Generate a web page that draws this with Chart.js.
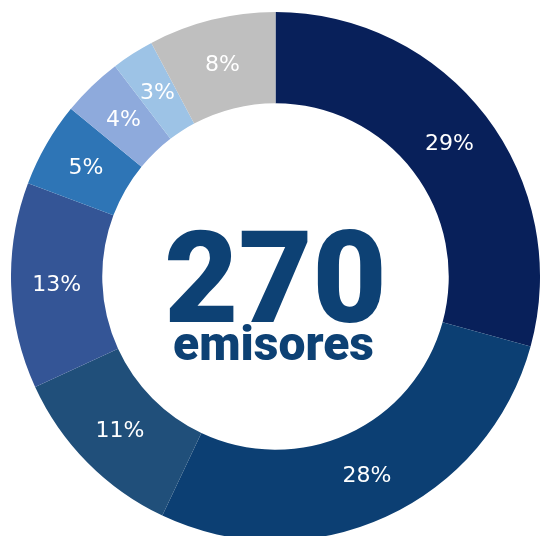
<!DOCTYPE html>
<html>
<head>
<meta charset="utf-8">
<script src="https://cdn.jsdelivr.net/npm/chart.js@4"></script>
<style>
html,body{margin:0;padding:0;background:#fff;overflow:hidden;width:541px;height:536px;}
#wrap{position:absolute;left:11px;top:12px;width:529px;height:529px;}
</style>
</head>
<body>
<div id="wrap"><canvas id="c"></canvas></div>
<script>
const categories = ["A", "B", "C", "D", "E", "F", "G", "H"];
const values = [79, 75, 30, 34, 14, 10, 7, 21];
const sliceLabels = ["29%", "28%", "11%", "13%", "5%", "4%", "3%", "8%"];
const colors = ["#08205a", "#0c3f73", "#204f7a", "#345596", "#2e75b6", "#8eaadc", "#9dc3e6", "#bfbfbf"];
const centerNumber = "270";
const centerWord = "emisores";

const labelPlugin = {
  id: 'sliceLabels',
  afterDatasetsDraw(chart) {
    const ctx = chart.ctx;
    const meta = chart.getDatasetMeta(0);
    ctx.save();
    ctx.fillStyle = '#ffffff';
    ctx.font = '22px "DejaVu Sans"';
    ctx.textAlign = 'center';
    ctx.textBaseline = 'middle';
    meta.data.forEach((arc, i) => {
      const p = arc.tooltipPosition();
      ctx.fillText(sliceLabels[i], p.x, p.y + 1);
    });
    const a = meta.data[0];
    const cx = a.x, cy = a.y;
    ctx.fillStyle = '#0d4174';
    ctx.textBaseline = 'alphabetic';
    ctx.font = '900 128px Roboto';
    ctx.fillText(centerNumber, cx, cy + 45);
    ctx.font = '900 48px Roboto';
    ctx.fillText(centerWord, cx - 2, cy + 83);
    ctx.restore();
  }
};

new Chart(document.getElementById('c'), {
  type: 'doughnut',
  data: {
    labels: categories,
    datasets: [{
      data: values,
      backgroundColor: colors,
      borderWidth: 0
    }]
  },
  options: {
    responsive: true,
    maintainAspectRatio: false,
    animation: false,
    cutout: '65.5%',
    layout: { padding: 0 },
    plugins: { legend: { display: false }, tooltip: { enabled: false } }
  },
  plugins: [labelPlugin]
});
</script>
</body>
</html>
